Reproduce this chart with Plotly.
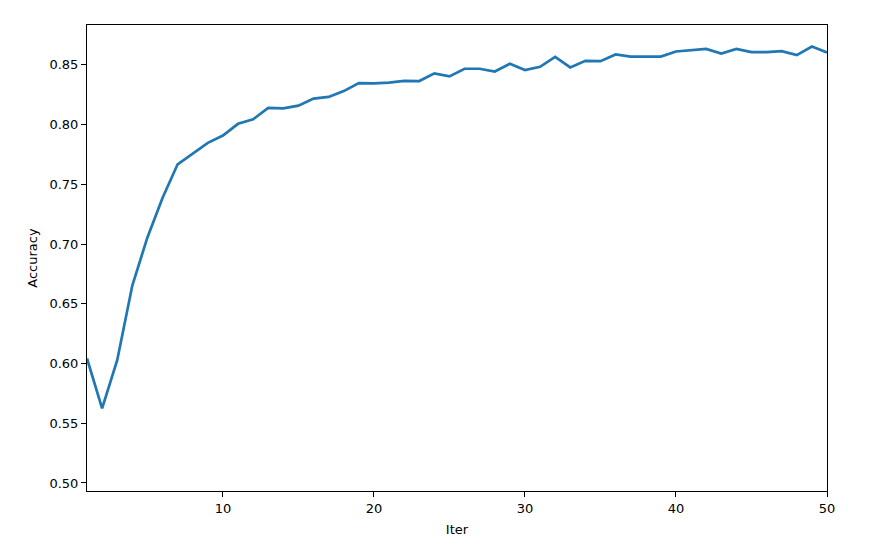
import plotly.graph_objects as go

iters = list(range(1, 51))
accuracy = [
    0.6042, 0.5625, 0.6028, 0.6653, 0.7055, 0.7385, 0.7667, 0.7756, 0.7847, 0.7908,
    0.8006, 0.8044, 0.8139, 0.8136, 0.8158, 0.8217, 0.8231, 0.8280, 0.8347, 0.8344,
    0.8350, 0.8365, 0.8364, 0.8428, 0.8403, 0.8467, 0.8467, 0.8444, 0.8508, 0.8456,
    0.8483, 0.8567, 0.8478, 0.8533, 0.8530, 0.8586, 0.8568, 0.8569, 0.8569, 0.8611,
    0.8622, 0.8633, 0.8594, 0.8633, 0.8606, 0.8606, 0.8614, 0.8581, 0.8653, 0.8603,
]
x_ticks = [10, 20, 30, 40, 50]
y_ticks = [0.50, 0.55, 0.60, 0.65, 0.70, 0.75, 0.80, 0.85]

fig = go.Figure(go.Scatter(
    x=iters, y=accuracy, mode="lines",
    line=dict(color="#1f77b4", width=2.7),
    showlegend=False,
))

axis_common = dict(
    showline=True, linecolor="black", linewidth=1, mirror=True,
    ticks="outside", ticklen=5, tickwidth=1, tickcolor="black",
    showgrid=False, zeroline=False,
    tickfont=dict(family="DejaVu Sans", size=13, color="black"),
    title_font=dict(family="DejaVu Sans", size=13, color="black"),
)

fig.update_layout(
    width=874, height=547,
    margin=dict(l=87, r=47, t=25, b=54),
    paper_bgcolor="white", plot_bgcolor="white",
    font=dict(family="DejaVu Sans", size=13, color="black"),
    xaxis=dict(range=[1, 50], tickvals=x_ticks, title=dict(text="Iter", standoff=10), **axis_common),
    yaxis=dict(range=[0.4933, 0.8833], tickvals=y_ticks, tickformat=".2f",
               title=dict(text="Accuracy", standoff=8), **axis_common),
)

fig.write_html(
    "out.html",
    config={"displayModeBar": False},
    post_script="document.body.style.margin='0';document.body.style.overflow='hidden';",
)
